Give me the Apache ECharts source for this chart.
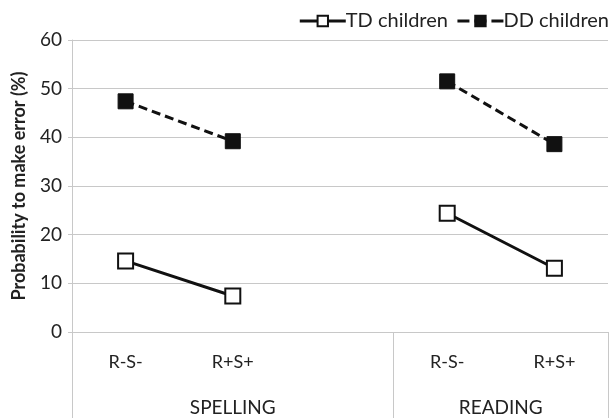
<!DOCTYPE html>
<html><head><meta charset="utf-8">
<script src="https://cdn.jsdelivr.net/npm/echarts@6/dist/echarts.min.js"></script>
<style>html,body{margin:0;padding:0;background:#fff}#c{width:616px;height:418px}</style>
</head><body><div id="c"></div>
<script>
const conditions = ['R-S-', 'R+S+', '', 'R-S-', 'R+S+'];
const groups = ['SPELLING', 'READING'];
const groupCenters = [1.5, 4];
const groupBounds = [0, 3, 5];
const tdChildren = [14.6, 7.4, null, 24.4, 13.1];
const ddChildren = [47.4, 39.2, null, 51.5, 38.6];
const yTicks = [0, 10, 20, 30, 40, 50, 60];

const font = 'Lato, "Open Sans", sans-serif';
const chart = echarts.init(document.getElementById('c'), null, {renderer: 'canvas'});
chart.setOption({
  animation: false,
  textStyle: {fontFamily: font},
  legend: {
    right: 2, top: 6, itemGap: 8, itemWidth: 46, itemHeight: 13,
    textStyle: {fontFamily: font, fontSize: 20, color: '#222', padding: [0, 0, 0, -5]},
    data: [
      {name: 'TD children', lineStyle: {width: 3, type: 'solid'}},
      {name: 'DD children', lineStyle: {width: 3, type: [12, 5]}}
    ]
  },
  grid: {left: 72, right: 8, top: 40, bottom: 86, containLabel: false, outerBoundsMode: 'none'},
  xAxis: [{
    type: 'category', data: conditions, boundaryGap: true,
    axisLine: {show: true, lineStyle: {color: '#c8c8c8', width: 1}},
    axisTick: {show: false},
    axisLabel: {margin: 21, fontSize: 18, color: '#222', fontFamily: font}
  }, {
    type: 'value', min: 0, max: 5, position: 'bottom',
    axisLine: {show: false},
    splitLine: {show: false},
    axisTick: {show: true, length: 86, customValues: groupBounds, lineStyle: {color: '#c8c8c8', width: 1}},
    axisLabel: {
      show: true, margin: 66, fontSize: 19, color: '#222', fontFamily: font,
      customValues: groupCenters,
      formatter: v => { const i = groupCenters.indexOf(v); return i >= 0 ? groups[i] : ''; }
    }
  }],
  yAxis: {
    type: 'value', min: yTicks[0], max: yTicks[yTicks.length - 1], interval: 10,
    name: 'Probability to make error (%)', nameLocation: 'middle', nameGap: 44,
    nameTextStyle: {fontFamily: font, fontSize: 18, fontWeight: 'bold', color: '#222'},
    axisLine: {show: true, lineStyle: {color: '#c8c8c8'}},
    axisTick: {show: true, length: 4, lineStyle: {color: '#c8c8c8'}},
    axisLabel: {fontSize: 19, color: '#222', margin: 10, fontFamily: font},
    splitLine: {lineStyle: {color: '#c8c8c8', width: 1}}
  },
  series: [{
    name: 'TD children', type: 'line', data: tdChildren, xAxisIndex: 0,
    symbol: 'rect', symbolSize: 15,
    lineStyle: {color: '#111', width: 3, type: 'solid'},
    itemStyle: {color: '#fff', borderColor: '#111', borderWidth: 2}
  }, {
    name: 'DD children', type: 'line', data: ddChildren, xAxisIndex: 0,
    symbol: 'rect', symbolSize: 15,
    lineStyle: {color: '#111', width: 3, type: [9, 5]},
    itemStyle: {color: '#111', borderColor: '#111', borderWidth: 1}
  }]
});
</script></body></html>
